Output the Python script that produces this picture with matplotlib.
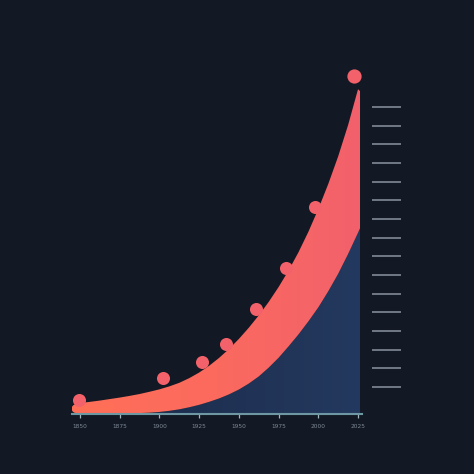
import numpy as np
import matplotlib.pyplot as plt
from matplotlib.colors import LinearSegmentedColormap

# x positions are in tick-index units (0..7), y in chart units
tick_labels = ["1850", "1875", "1900", "1925", "1950", "1975", "2000", "2025"]

band_x = [-0.1, 0.0, 0.25, 0.5, 0.75, 1.0, 1.25, 1.5, 1.75, 2.0, 2.25, 2.5, 2.75,
          3.0, 3.25, 3.5, 3.75, 4.0, 4.25, 4.5, 4.75, 5.0, 5.25, 5.5, 5.75,
          6.0, 6.25, 6.5, 6.75, 7.0, 7.05]
band_top = [0.54, 0.59, 0.65, 0.72, 0.80, 0.88, 0.97, 1.07, 1.19, 1.32, 1.48, 1.67, 1.92,
            2.22, 2.58, 3.00, 3.48, 4.02, 4.62, 5.28, 6.00, 6.80, 7.68, 8.66, 9.76,
            10.98, 12.32, 13.80, 15.48, 17.40, 17.30]
band_bottom = [0.03, 0.05, 0.05, 0.05, 0.05, 0.05, 0.05, 0.05, 0.07, 0.11, 0.17, 0.25, 0.36,
               0.49, 0.65, 0.83, 1.05, 1.31, 1.63, 2.01, 2.48, 3.01, 3.62, 4.26, 4.96,
               5.71, 6.57, 7.51, 8.57, 9.71, 9.95]

dot_x = [-0.03, 2.09, 3.07, 3.68, 4.43, 5.19, 5.92, 6.90]
dot_y = [0.75, 1.93, 2.79, 3.75, 5.62, 7.82, 11.09, 18.1]

bg = "#131924"

fig = plt.figure(figsize=(4.74, 4.74), dpi=100, facecolor=bg)
ax = fig.add_axes([72 / 474, 60 / 474, 290 / 474, 347 / 474])
ax.set_facecolor(bg)

bx = np.array(band_x)
top = np.array(band_top)
bot = np.array(band_bottom)
ext = [-0.2, 7.1, 0, 18.59]

# blue area under the band, soft left-to-right gradient
blue = ax.fill_between(bx, 0, bot, color="none", lw=0)
blue_cmap = LinearSegmentedColormap.from_list("b", ["#1a2a48", "#24395f"])
im = ax.imshow(np.linspace(0, 1, 256)[None, :], cmap=blue_cmap, aspect="auto",
               extent=ext, zorder=1)
im.set_clip_path(blue.get_paths()[0], transform=ax.transData)

# coral band
band = ax.fill_between(bx, bot, top, color="none", lw=0)
band_cmap = LinearSegmentedColormap.from_list("p", ["#ff6f58", "#fb6a5e", "#f2616c"])
im2 = ax.imshow(np.linspace(0, 1, 256)[None, :], cmap=band_cmap, aspect="auto",
                extent=ext, zorder=2)
im2.set_clip_path(band.get_paths()[0], transform=ax.transData)
# rounded left end
ax.plot(bx[:5], (top[:5] + bot[:5]) / 2, color="#ff6f58", lw=6.3,
        solid_capstyle="round", zorder=2)

ax.scatter(dot_x[:-1], dot_y[:-1], s=88, color="#f3626a", zorder=3, clip_on=False, lw=0)
ax.scatter(dot_x[-1:], dot_y[-1:], s=105, color="#f3626a", zorder=3, clip_on=False, lw=0)

ax.set_xlim(ext[0], ext[1])
ax.set_ylim(ext[2], ext[3])

for s in ["top", "left"]:
    ax.spines[s].set_visible(False)
ax.spines["bottom"].set_color("#6d98a3")
ax.spines["bottom"].set_linewidth(1.5)
ax.spines["right"].set_position(("outward", 7.2))
ax.spines["right"].set_visible(False)

ax.set_xticks(range(len(tick_labels)))
ax.set_xticklabels(tick_labels, fontsize=4.2)
ax.tick_params(axis="x", colors="#9fb6bd", length=3, width=0.9, pad=4, labelcolor="#7d8896")

ax.yaxis.tick_right()
ax.set_yticks(np.arange(16) + 1.45)
ax.set_yticklabels([])
ax.tick_params(axis="y", right=True, left=False, length=21, width=1.1,
               colors="#8b93a0", direction="out")

fig.savefig("out.png", dpi=100, facecolor=bg)
